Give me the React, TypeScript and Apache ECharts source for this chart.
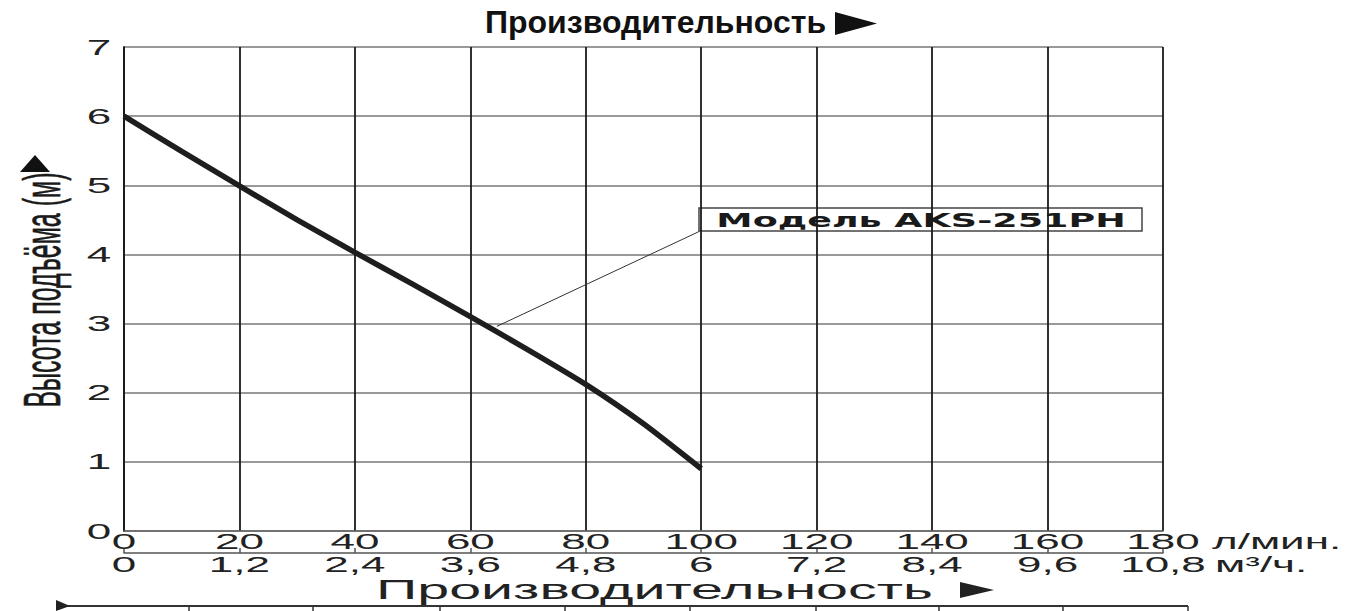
import React, { useEffect, useRef } from "react";
import * as echarts from "echarts";

// Flow (l/min) and head (m)
const flowLpm = [0, 10, 20, 30, 40, 50, 60, 70, 80, 90, 100];
const headM = [6.0, 5.49, 4.99, 4.5, 4.03, 3.57, 3.1, 2.62, 2.12, 1.55, 0.9];

// Axis ticks and labels
const lpmTicks = [0, 20, 40, 60, 80, 100, 120, 140, 160, 180];
const lpmLabels = ["0", "20", "40", "60", "80", "100", "120", "140", "160", "180"];
const m3hTicks = [0, 1.2, 2.4, 3.6, 4.8, 6, 7.2, 8.4, 9.6, 10.8];
const m3hLabels = ["0", "1,2", "2,4", "3,6", "4,8", "6", "7,2", "8,4", "9,6", "10,8"];
const headTicks = [0, 1, 2, 3, 4, 5, 6, 7];
const headLabels = ["0", "1", "2", "3", "4", "5", "6", "7"];

// Texts
const topTitle = "Производительность";
const bottomTitle = "Производительность";
const yName = "Высота подъёма (м)";
const unitLpm = "л/мин.";
const unitM3h = "м³/ч.";
const modelName = "Модель AKS-251PH";

// Annotation anchor (data coords): point on curve -> corner of label box
const leaderFrom = [64.6, 2.96];
const leaderTo = [99.6, 4.33];

const FONT = "'Liberation Sans', Arial, sans-serif";
const STRETCH = 2;

function labelSeries(
  xAxisIndex: number,
  values: number[],
  labels: string[],
  dy: number
) {
  return {
    type: "custom",
    xAxisIndex,
    yAxisIndex: 0,
    silent: true,
    clip: false,
    z: 5,
    data: values.map((v) => [v, 0]),
    renderItem: (params: any, api: any) => {
      const p = api.coord([api.value(0), 0]);
      return {
        type: "text",
        x: p[0],
        y: p[1] + dy,
        scaleX: STRETCH,
        style: {
          text: labels[params.dataIndex],
          align: "center",
          verticalAlign: "middle",
          fontSize: 22,
          fontFamily: FONT,
          fill: "#222",
        },
      };
    },
  };
}

const yLabelSeries = {
  type: "custom",
  xAxisIndex: 0,
  yAxisIndex: 0,
  silent: true,
  clip: false,
  z: 5,
  data: headTicks.map((v) => [0, v]),
  renderItem: (params: any, api: any) => {
    const p = api.coord([0, api.value(1)]);
    return {
      type: "text",
      x: p[0] - 25,
      y: p[1],
      scaleX: STRETCH,
      style: {
        text: headLabels[params.dataIndex],
        align: "center",
        verticalAlign: "middle",
        fontSize: 22,
        fontFamily: FONT,
        fill: "#222",
      },
    };
  },
};

const option: any = {
  animation: false,
  backgroundColor: "#ffffff",
  grid: { left: 124, right: 195, top: 47, bottom: 80, containLabel: false },
  xAxis: [
    {
      type: "value",
      min: 0,
      max: 180,
      interval: 20,
      position: "bottom",
      axisLine: { show: true, lineStyle: { color: "#666", width: 1.5 } },
      axisTick: { show: false },
      axisLabel: { show: false },
      splitLine: { show: true, lineStyle: { color: "#1a1a1a", width: 1.8 } },
    },
    {
      type: "value",
      min: 0,
      max: 10.8,
      interval: 1.2,
      position: "bottom",
      offset: 22,
      axisLine: { show: true, lineStyle: { color: "#555", width: 1.5 } },
      axisTick: { show: true, inside: true, length: 5, lineStyle: { color: "#555", width: 1.5 } },
      axisLabel: { show: false },
      splitLine: { show: false },
    },
  ],
  yAxis: {
    type: "value",
    min: 0,
    max: 7,
    interval: 1,
    axisLine: { show: true, lineStyle: { color: "#1a1a1a", width: 1.8 } },
    axisTick: { show: false },
    axisLabel: { show: false },
    splitLine: { show: true, lineStyle: { color: "#777", width: 1.5 } },
  },
  series: [
    {
      type: "line",
      xAxisIndex: 0,
      yAxisIndex: 0,
      data: flowLpm.map((f, i) => [f, headM[i]]),
      showSymbol: false,
      smooth: 0.2,
      z: 4,
      lineStyle: { color: "#1e1e1e", width: 5.5 },
      markLine: {
        silent: true,
        symbol: ["none", "none"],
        label: { show: false },
        lineStyle: { color: "#333", width: 1, type: "solid" },
        data: [[{ coord: leaderFrom }, { coord: leaderTo }]],
      },
    },
    labelSeries(0, lpmTicks, lpmLabels, 10.5),
    labelSeries(1, m3hTicks, m3hLabels, 33),
    yLabelSeries,
  ],
  graphic: [
    {
      type: "text",
      x: 485,
      y: 22,
      style: {
        text: topTitle,
        align: "left",
        verticalAlign: "middle",
        fontSize: 32,
        fontWeight: "bold",
        fontFamily: FONT,
        fill: "#111",
      },
    },
    {
      type: "polygon",
      shape: { points: [[835, 12], [835, 35], [877, 23.5]] },
      style: { fill: "#111" },
    },
    {
      type: "text",
      x: 376,
      y: 589,
      scaleX: 2.05,
      style: {
        text: bottomTitle,
        align: "left",
        verticalAlign: "middle",
        fontSize: 28,
        fontFamily: FONT,
        fill: "#222",
      },
    },
    {
      type: "polygon",
      shape: { points: [[960, 582], [960, 598], [994, 590]] },
      style: { fill: "#222" },
    },
    {
      type: "text",
      x: 42,
      y: 290,
      rotation: Math.PI / 2,
      scaleY: 2.1,
      style: {
        text: yName,
        align: "center",
        verticalAlign: "middle",
        fontSize: 25,
        fontFamily: FONT,
        fill: "#1a1a1a",
        stroke: "#1a1a1a",
        lineWidth: 0.3,
      },
    },
    {
      type: "polygon",
      shape: { points: [[20, 172], [50, 172], [35, 155]] },
      style: { fill: "#111" },
    },
    {
      type: "text",
      x: 1212,
      y: 541,
      scaleX: STRETCH,
      style: {
        text: unitLpm,
        align: "left",
        verticalAlign: "middle",
        fontSize: 22,
        fontFamily: FONT,
        fill: "#222",
      },
    },
    {
      type: "text",
      x: 1215,
      y: 564,
      scaleX: STRETCH,
      style: {
        text: unitM3h,
        align: "left",
        verticalAlign: "middle",
        fontSize: 22,
        fontFamily: FONT,
        fill: "#222",
      },
    },
    {
      type: "group",
      z: 100,
      children: [
        {
          type: "rect",
          shape: { x: 699, y: 208, width: 443, height: 23 },
          style: { fill: "#fff", stroke: "#444", lineWidth: 1.5 },
        },
        {
          type: "text",
          x: 921,
          y: 220,
          scaleX: 1.92,
          style: {
            text: modelName,
            align: "center",
            verticalAlign: "middle",
            fontSize: 19,
            fontWeight: "bold",
            fontFamily: "'DejaVu Sans', Verdana, sans-serif",
            fill: "#1a1a1a",
          },
        },
      ],
    },
    {
      type: "group",
      z: 1,
      children: [
        {
          type: "line",
          shape: { x1: 61, y1: 606, x2: 1188, y2: 606 },
          style: { stroke: "#333", lineWidth: 2 },
        },
        ...[189, 313, 440, 565, 690, 816, 939, 1063, 1188].map((x) => ({
          type: "line",
          shape: { x1: x, y1: 606, x2: x, y2: 611 },
          style: { stroke: "#333", lineWidth: 1.5 },
        })),
        {
          type: "polygon",
          shape: { points: [[56, 600], [70, 606], [56, 611]] },
          style: { fill: "#222" },
        },
      ],
    },
  ],
};

export default function App() {
  const ref = useRef<HTMLDivElement>(null);
  useEffect(() => {
    if (!ref.current) return;
    const chart = echarts.init(ref.current, null, { renderer: "svg" });
    chart.setOption(option);
    return () => chart.dispose();
  }, []);
  return (
    <div
      ref={ref}
      style={{
        position: "absolute",
        left: 0,
        top: 0,
        width: 1358,
        height: 611,
        background: "#fff",
      }}
    />
  );
}
